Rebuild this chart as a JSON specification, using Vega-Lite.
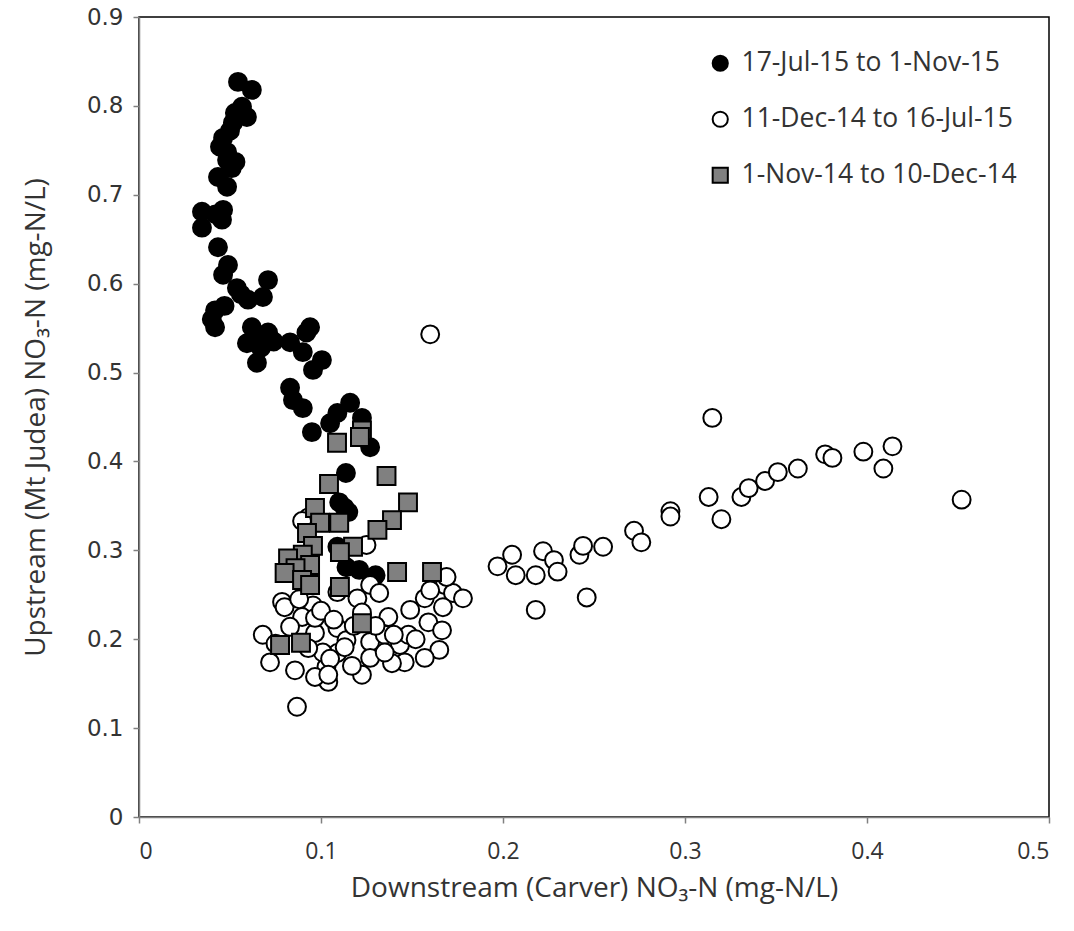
{
  "$schema": "https://vega.github.io/schema/vega-lite/v6.json",
  "width": 910,
  "height": 800,
  "autosize": {"type": "none"},
  "padding": {"left": 139, "top": 17, "right": 25, "bottom": 114},
  "background": "white",
  "config": {
    "view": {"stroke": "#000000", "strokeWidth": 1.5},
    "axis": {"grid": false},
    "legend": {
      "orient": "none",
      "legendX": 568,
      "legendY": 33,
      "padding": 0,
      "labelFont": "Open Sans", "labelFontSize": 26.5, "labelColor": "#333333",
      "labelOffset": 8,
      "labelLimit": 500,
      "rowPadding": 29,
      "symbolSize": 230,
      "symbolStrokeWidth": 2,
      "symbolOpacity": 1
    }
  },
  "data": {
    "values": [
      {"x": 0.0544, "y": 0.827, "p": "17-Jul-15 to 1-Nov-15"},
      {"x": 0.062, "y": 0.818, "p": "17-Jul-15 to 1-Nov-15"},
      {"x": 0.0566, "y": 0.799, "p": "17-Jul-15 to 1-Nov-15"},
      {"x": 0.0593, "y": 0.7875, "p": "17-Jul-15 to 1-Nov-15"},
      {"x": 0.0527, "y": 0.792, "p": "17-Jul-15 to 1-Nov-15"},
      {"x": 0.0516, "y": 0.781, "p": "17-Jul-15 to 1-Nov-15"},
      {"x": 0.05, "y": 0.772, "p": "17-Jul-15 to 1-Nov-15"},
      {"x": 0.0462, "y": 0.764, "p": "17-Jul-15 to 1-Nov-15"},
      {"x": 0.0445, "y": 0.754, "p": "17-Jul-15 to 1-Nov-15"},
      {"x": 0.0484, "y": 0.748, "p": "17-Jul-15 to 1-Nov-15"},
      {"x": 0.0484, "y": 0.739, "p": "17-Jul-15 to 1-Nov-15"},
      {"x": 0.051, "y": 0.73, "p": "17-Jul-15 to 1-Nov-15"},
      {"x": 0.053, "y": 0.737, "p": "17-Jul-15 to 1-Nov-15"},
      {"x": 0.0434, "y": 0.72, "p": "17-Jul-15 to 1-Nov-15"},
      {"x": 0.0484, "y": 0.709, "p": "17-Jul-15 to 1-Nov-15"},
      {"x": 0.0346, "y": 0.681, "p": "17-Jul-15 to 1-Nov-15"},
      {"x": 0.0462, "y": 0.683, "p": "17-Jul-15 to 1-Nov-15"},
      {"x": 0.042, "y": 0.678, "p": "17-Jul-15 to 1-Nov-15"},
      {"x": 0.0456, "y": 0.672, "p": "17-Jul-15 to 1-Nov-15"},
      {"x": 0.0346, "y": 0.663, "p": "17-Jul-15 to 1-Nov-15"},
      {"x": 0.0434, "y": 0.641, "p": "17-Jul-15 to 1-Nov-15"},
      {"x": 0.0489, "y": 0.621, "p": "17-Jul-15 to 1-Nov-15"},
      {"x": 0.0462, "y": 0.61, "p": "17-Jul-15 to 1-Nov-15"},
      {"x": 0.0538, "y": 0.595, "p": "17-Jul-15 to 1-Nov-15"},
      {"x": 0.0709, "y": 0.604, "p": "17-Jul-15 to 1-Nov-15"},
      {"x": 0.0681, "y": 0.585, "p": "17-Jul-15 to 1-Nov-15"},
      {"x": 0.0599, "y": 0.582, "p": "17-Jul-15 to 1-Nov-15"},
      {"x": 0.056, "y": 0.588, "p": "17-Jul-15 to 1-Nov-15"},
      {"x": 0.0418, "y": 0.57, "p": "17-Jul-15 to 1-Nov-15"},
      {"x": 0.047, "y": 0.575, "p": "17-Jul-15 to 1-Nov-15"},
      {"x": 0.0418, "y": 0.551, "p": "17-Jul-15 to 1-Nov-15"},
      {"x": 0.04, "y": 0.56, "p": "17-Jul-15 to 1-Nov-15"},
      {"x": 0.062, "y": 0.551, "p": "17-Jul-15 to 1-Nov-15"},
      {"x": 0.0709, "y": 0.545, "p": "17-Jul-15 to 1-Nov-15"},
      {"x": 0.0593, "y": 0.533, "p": "17-Jul-15 to 1-Nov-15"},
      {"x": 0.0648, "y": 0.511, "p": "17-Jul-15 to 1-Nov-15"},
      {"x": 0.064, "y": 0.535, "p": "17-Jul-15 to 1-Nov-15"},
      {"x": 0.067, "y": 0.528, "p": "17-Jul-15 to 1-Nov-15"},
      {"x": 0.074, "y": 0.535, "p": "17-Jul-15 to 1-Nov-15"},
      {"x": 0.083, "y": 0.534, "p": "17-Jul-15 to 1-Nov-15"},
      {"x": 0.09, "y": 0.523, "p": "17-Jul-15 to 1-Nov-15"},
      {"x": 0.094, "y": 0.551, "p": "17-Jul-15 to 1-Nov-15"},
      {"x": 0.092, "y": 0.545, "p": "17-Jul-15 to 1-Nov-15"},
      {"x": 0.1005, "y": 0.514, "p": "17-Jul-15 to 1-Nov-15"},
      {"x": 0.0956, "y": 0.503, "p": "17-Jul-15 to 1-Nov-15"},
      {"x": 0.083, "y": 0.483, "p": "17-Jul-15 to 1-Nov-15"},
      {"x": 0.0846, "y": 0.469, "p": "17-Jul-15 to 1-Nov-15"},
      {"x": 0.09, "y": 0.46, "p": "17-Jul-15 to 1-Nov-15"},
      {"x": 0.095, "y": 0.433, "p": "17-Jul-15 to 1-Nov-15"},
      {"x": 0.105, "y": 0.443, "p": "17-Jul-15 to 1-Nov-15"},
      {"x": 0.109, "y": 0.4545, "p": "17-Jul-15 to 1-Nov-15"},
      {"x": 0.116, "y": 0.466, "p": "17-Jul-15 to 1-Nov-15"},
      {"x": 0.1225, "y": 0.449, "p": "17-Jul-15 to 1-Nov-15"},
      {"x": 0.127, "y": 0.416, "p": "17-Jul-15 to 1-Nov-15"},
      {"x": 0.1137, "y": 0.387, "p": "17-Jul-15 to 1-Nov-15"},
      {"x": 0.11, "y": 0.354, "p": "17-Jul-15 to 1-Nov-15"},
      {"x": 0.113, "y": 0.348, "p": "17-Jul-15 to 1-Nov-15"},
      {"x": 0.115, "y": 0.343, "p": "17-Jul-15 to 1-Nov-15"},
      {"x": 0.109, "y": 0.304, "p": "17-Jul-15 to 1-Nov-15"},
      {"x": 0.114, "y": 0.281, "p": "17-Jul-15 to 1-Nov-15"},
      {"x": 0.121, "y": 0.278, "p": "17-Jul-15 to 1-Nov-15"},
      {"x": 0.13, "y": 0.272, "p": "17-Jul-15 to 1-Nov-15"},
      {"x": 0.128, "y": 0.265, "p": "17-Jul-15 to 1-Nov-15"},

      {"x": 0.16, "y": 0.543, "p": "11-Dec-14 to 16-Jul-15"},
      {"x": 0.315, "y": 0.449, "p": "11-Dec-14 to 16-Jul-15"},
      {"x": 0.197, "y": 0.282, "p": "11-Dec-14 to 16-Jul-15"},
      {"x": 0.205, "y": 0.295, "p": "11-Dec-14 to 16-Jul-15"},
      {"x": 0.207, "y": 0.272, "p": "11-Dec-14 to 16-Jul-15"},
      {"x": 0.218, "y": 0.272, "p": "11-Dec-14 to 16-Jul-15"},
      {"x": 0.218, "y": 0.233, "p": "11-Dec-14 to 16-Jul-15"},
      {"x": 0.222, "y": 0.299, "p": "11-Dec-14 to 16-Jul-15"},
      {"x": 0.228, "y": 0.289, "p": "11-Dec-14 to 16-Jul-15"},
      {"x": 0.23, "y": 0.276, "p": "11-Dec-14 to 16-Jul-15"},
      {"x": 0.242, "y": 0.295, "p": "11-Dec-14 to 16-Jul-15"},
      {"x": 0.244, "y": 0.305, "p": "11-Dec-14 to 16-Jul-15"},
      {"x": 0.246, "y": 0.247, "p": "11-Dec-14 to 16-Jul-15"},
      {"x": 0.255, "y": 0.304, "p": "11-Dec-14 to 16-Jul-15"},
      {"x": 0.272, "y": 0.322, "p": "11-Dec-14 to 16-Jul-15"},
      {"x": 0.276, "y": 0.309, "p": "11-Dec-14 to 16-Jul-15"},
      {"x": 0.292, "y": 0.344, "p": "11-Dec-14 to 16-Jul-15"},
      {"x": 0.292, "y": 0.338, "p": "11-Dec-14 to 16-Jul-15"},
      {"x": 0.313, "y": 0.36, "p": "11-Dec-14 to 16-Jul-15"},
      {"x": 0.32, "y": 0.335, "p": "11-Dec-14 to 16-Jul-15"},
      {"x": 0.331, "y": 0.36, "p": "11-Dec-14 to 16-Jul-15"},
      {"x": 0.335, "y": 0.37, "p": "11-Dec-14 to 16-Jul-15"},
      {"x": 0.344, "y": 0.378, "p": "11-Dec-14 to 16-Jul-15"},
      {"x": 0.351, "y": 0.388, "p": "11-Dec-14 to 16-Jul-15"},
      {"x": 0.362, "y": 0.392, "p": "11-Dec-14 to 16-Jul-15"},
      {"x": 0.377, "y": 0.408, "p": "11-Dec-14 to 16-Jul-15"},
      {"x": 0.381, "y": 0.404, "p": "11-Dec-14 to 16-Jul-15"},
      {"x": 0.398, "y": 0.411, "p": "11-Dec-14 to 16-Jul-15"},
      {"x": 0.409, "y": 0.392, "p": "11-Dec-14 to 16-Jul-15"},
      {"x": 0.414, "y": 0.417, "p": "11-Dec-14 to 16-Jul-15"},
      {"x": 0.452, "y": 0.357, "p": "11-Dec-14 to 16-Jul-15"},
      {"x": 0.093, "y": 0.337, "p": "11-Dec-14 to 16-Jul-15"},
      {"x": 0.0896, "y": 0.333, "p": "11-Dec-14 to 16-Jul-15"},
      {"x": 0.125, "y": 0.306, "p": "11-Dec-14 to 16-Jul-15"},
      {"x": 0.109, "y": 0.253, "p": "11-Dec-14 to 16-Jul-15"},
      {"x": 0.127, "y": 0.261, "p": "11-Dec-14 to 16-Jul-15"},
      {"x": 0.132, "y": 0.252, "p": "11-Dec-14 to 16-Jul-15"},
      {"x": 0.168, "y": 0.261, "p": "11-Dec-14 to 16-Jul-15"},
      {"x": 0.1725, "y": 0.252, "p": "11-Dec-14 to 16-Jul-15"},
      {"x": 0.178, "y": 0.246, "p": "11-Dec-14 to 16-Jul-15"},
      {"x": 0.157, "y": 0.246, "p": "11-Dec-14 to 16-Jul-15"},
      {"x": 0.167, "y": 0.236, "p": "11-Dec-14 to 16-Jul-15"},
      {"x": 0.149, "y": 0.233, "p": "11-Dec-14 to 16-Jul-15"},
      {"x": 0.137, "y": 0.225, "p": "11-Dec-14 to 16-Jul-15"},
      {"x": 0.12, "y": 0.246, "p": "11-Dec-14 to 16-Jul-15"},
      {"x": 0.0786, "y": 0.242, "p": "11-Dec-14 to 16-Jul-15"},
      {"x": 0.08, "y": 0.236, "p": "11-Dec-14 to 16-Jul-15"},
      {"x": 0.0956, "y": 0.238, "p": "11-Dec-14 to 16-Jul-15"},
      {"x": 0.0896, "y": 0.225, "p": "11-Dec-14 to 16-Jul-15"},
      {"x": 0.083, "y": 0.214, "p": "11-Dec-14 to 16-Jul-15"},
      {"x": 0.068, "y": 0.205, "p": "11-Dec-14 to 16-Jul-15"},
      {"x": 0.0967, "y": 0.207, "p": "11-Dec-14 to 16-Jul-15"},
      {"x": 0.109, "y": 0.2126, "p": "11-Dec-14 to 16-Jul-15"},
      {"x": 0.114, "y": 0.199, "p": "11-Dec-14 to 16-Jul-15"},
      {"x": 0.127, "y": 0.197, "p": "11-Dec-14 to 16-Jul-15"},
      {"x": 0.135, "y": 0.205, "p": "11-Dec-14 to 16-Jul-15"},
      {"x": 0.1434, "y": 0.1935, "p": "11-Dec-14 to 16-Jul-15"},
      {"x": 0.148, "y": 0.205, "p": "11-Dec-14 to 16-Jul-15"},
      {"x": 0.159, "y": 0.219, "p": "11-Dec-14 to 16-Jul-15"},
      {"x": 0.1665, "y": 0.21, "p": "11-Dec-14 to 16-Jul-15"},
      {"x": 0.165, "y": 0.188, "p": "11-Dec-14 to 16-Jul-15"},
      {"x": 0.157, "y": 0.179, "p": "11-Dec-14 to 16-Jul-15"},
      {"x": 0.146, "y": 0.174, "p": "11-Dec-14 to 16-Jul-15"},
      {"x": 0.139, "y": 0.173, "p": "11-Dec-14 to 16-Jul-15"},
      {"x": 0.127, "y": 0.179, "p": "11-Dec-14 to 16-Jul-15"},
      {"x": 0.1225, "y": 0.16, "p": "11-Dec-14 to 16-Jul-15"},
      {"x": 0.109, "y": 0.1845, "p": "11-Dec-14 to 16-Jul-15"},
      {"x": 0.103, "y": 0.169, "p": "11-Dec-14 to 16-Jul-15"},
      {"x": 0.104, "y": 0.152, "p": "11-Dec-14 to 16-Jul-15"},
      {"x": 0.0967, "y": 0.1575, "p": "11-Dec-14 to 16-Jul-15"},
      {"x": 0.0857, "y": 0.165, "p": "11-Dec-14 to 16-Jul-15"},
      {"x": 0.072, "y": 0.174, "p": "11-Dec-14 to 16-Jul-15"},
      {"x": 0.0868, "y": 0.124, "p": "11-Dec-14 to 16-Jul-15"},
      {"x": 0.113, "y": 0.191, "p": "11-Dec-14 to 16-Jul-15"},
      {"x": 0.0967, "y": 0.224, "p": "11-Dec-14 to 16-Jul-15"},
      {"x": 0.1225, "y": 0.23, "p": "11-Dec-14 to 16-Jul-15"},
      {"x": 0.16, "y": 0.255, "p": "11-Dec-14 to 16-Jul-15"},
      {"x": 0.169, "y": 0.27, "p": "11-Dec-14 to 16-Jul-15"},
      {"x": 0.101, "y": 0.185, "p": "11-Dec-14 to 16-Jul-15"},
      {"x": 0.105, "y": 0.178, "p": "11-Dec-14 to 16-Jul-15"},
      {"x": 0.093, "y": 0.19, "p": "11-Dec-14 to 16-Jul-15"},
      {"x": 0.075, "y": 0.195, "p": "11-Dec-14 to 16-Jul-15"},
      {"x": 0.118, "y": 0.215, "p": "11-Dec-14 to 16-Jul-15"},
      {"x": 0.13, "y": 0.215, "p": "11-Dec-14 to 16-Jul-15"},
      {"x": 0.14, "y": 0.205, "p": "11-Dec-14 to 16-Jul-15"},
      {"x": 0.152, "y": 0.2, "p": "11-Dec-14 to 16-Jul-15"},
      {"x": 0.1, "y": 0.232, "p": "11-Dec-14 to 16-Jul-15"},
      {"x": 0.088, "y": 0.245, "p": "11-Dec-14 to 16-Jul-15"},
      {"x": 0.104, "y": 0.16, "p": "11-Dec-14 to 16-Jul-15"},
      {"x": 0.117, "y": 0.17, "p": "11-Dec-14 to 16-Jul-15"},
      {"x": 0.135, "y": 0.185, "p": "11-Dec-14 to 16-Jul-15"},
      {"x": 0.107, "y": 0.222, "p": "11-Dec-14 to 16-Jul-15"},

      {"x": 0.1088, "y": 0.421, "p": "1-Nov-14 to 10-Dec-14"},
      {"x": 0.1225, "y": 0.435, "p": "1-Nov-14 to 10-Dec-14"},
      {"x": 0.1214, "y": 0.4275, "p": "1-Nov-14 to 10-Dec-14"},
      {"x": 0.136, "y": 0.3836, "p": "1-Nov-14 to 10-Dec-14"},
      {"x": 0.1044, "y": 0.3746, "p": "1-Nov-14 to 10-Dec-14"},
      {"x": 0.1478, "y": 0.354, "p": "1-Nov-14 to 10-Dec-14"},
      {"x": 0.0967, "y": 0.3476, "p": "1-Nov-14 to 10-Dec-14"},
      {"x": 0.139, "y": 0.334, "p": "1-Nov-14 to 10-Dec-14"},
      {"x": 0.0995, "y": 0.331, "p": "1-Nov-14 to 10-Dec-14"},
      {"x": 0.11, "y": 0.331, "p": "1-Nov-14 to 10-Dec-14"},
      {"x": 0.131, "y": 0.323, "p": "1-Nov-14 to 10-Dec-14"},
      {"x": 0.0923, "y": 0.3195, "p": "1-Nov-14 to 10-Dec-14"},
      {"x": 0.0956, "y": 0.305, "p": "1-Nov-14 to 10-Dec-14"},
      {"x": 0.1176, "y": 0.304, "p": "1-Nov-14 to 10-Dec-14"},
      {"x": 0.1104, "y": 0.298, "p": "1-Nov-14 to 10-Dec-14"},
      {"x": 0.09, "y": 0.295, "p": "1-Nov-14 to 10-Dec-14"},
      {"x": 0.0819, "y": 0.291, "p": "1-Nov-14 to 10-Dec-14"},
      {"x": 0.094, "y": 0.2835, "p": "1-Nov-14 to 10-Dec-14"},
      {"x": 0.086, "y": 0.28, "p": "1-Nov-14 to 10-Dec-14"},
      {"x": 0.08, "y": 0.2745, "p": "1-Nov-14 to 10-Dec-14"},
      {"x": 0.0896, "y": 0.2666, "p": "1-Nov-14 to 10-Dec-14"},
      {"x": 0.1418, "y": 0.2756, "p": "1-Nov-14 to 10-Dec-14"},
      {"x": 0.161, "y": 0.2756, "p": "1-Nov-14 to 10-Dec-14"},
      {"x": 0.094, "y": 0.261, "p": "1-Nov-14 to 10-Dec-14"},
      {"x": 0.1104, "y": 0.2587, "p": "1-Nov-14 to 10-Dec-14"},
      {"x": 0.1225, "y": 0.218, "p": "1-Nov-14 to 10-Dec-14"},
      {"x": 0.0775, "y": 0.1935, "p": "1-Nov-14 to 10-Dec-14"},
      {"x": 0.089, "y": 0.196, "p": "1-Nov-14 to 10-Dec-14"}
    ]
  },
  "mark": {"type": "point", "filled": true, "size": 320, "strokeWidth": 2, "opacity": 1},
  "encoding": {
    "x": {
      "field": "x", "type": "quantitative",
      "scale": {"domain": [0, 0.5], "nice": false, "zero": true},
      "axis": {
        "values": [0, 0.1, 0.2, 0.3, 0.4, 0.5],
        "format": "~g",
        "title": "Downstream (Carver) NO₃-N (mg-N/L)",
        "titleFont": "Open Sans", "titleFontSize": 28, "titleFontWeight": "normal", "titleColor": "#333333",
        "titlePadding": 11,
        "labelFont": "Open Sans", "labelFontSize": 23, "labelColor": "#333333", "labelPadding": 17,
        "domainColor": "#808080", "domainWidth": 1.5,
        "tickColor": "#808080", "tickWidth": 1.5, "tickSize": 6
      }
    },
    "y": {
      "field": "y", "type": "quantitative",
      "scale": {"domain": [0, 0.9], "nice": false, "zero": true},
      "axis": {
        "values": [0, 0.1, 0.2, 0.3, 0.4, 0.5, 0.6, 0.7, 0.8, 0.9],
        "format": "~g",
        "title": "Upstream (Mt Judea) NO₃-N (mg-N/L)",
        "titleFont": "Open Sans", "titleFontSize": 28, "titleFontWeight": "normal", "titleColor": "#333333",
        "titlePadding": 36,
        "labelFont": "DejaVu Sans", "labelFontSize": 23, "labelColor": "#333333", "labelPadding": 10,
        "domainColor": "#808080", "domainWidth": 1.5,
        "tickColor": "#808080", "tickWidth": 1.5, "tickSize": 6
      }
    },
    "fill": {
      "field": "p", "type": "nominal",
      "scale": {
        "domain": ["17-Jul-15 to 1-Nov-15", "11-Dec-14 to 16-Jul-15", "1-Nov-14 to 10-Dec-14"],
        "range": ["#000000", "#ffffff", "#808080"]
      },
      "legend": {"title": null}
    },
    "stroke": {
      "field": "p", "type": "nominal",
      "scale": {
        "domain": ["17-Jul-15 to 1-Nov-15", "11-Dec-14 to 16-Jul-15", "1-Nov-14 to 10-Dec-14"],
        "range": ["#000000", "#000000", "#000000"]
      },
      "legend": {"title": null}
    },
    "shape": {
      "field": "p", "type": "nominal",
      "scale": {
        "domain": ["17-Jul-15 to 1-Nov-15", "11-Dec-14 to 16-Jul-15", "1-Nov-14 to 10-Dec-14"],
        "range": ["circle", "circle", "square"]
      },
      "legend": {"title": null}
    }
  }
}
